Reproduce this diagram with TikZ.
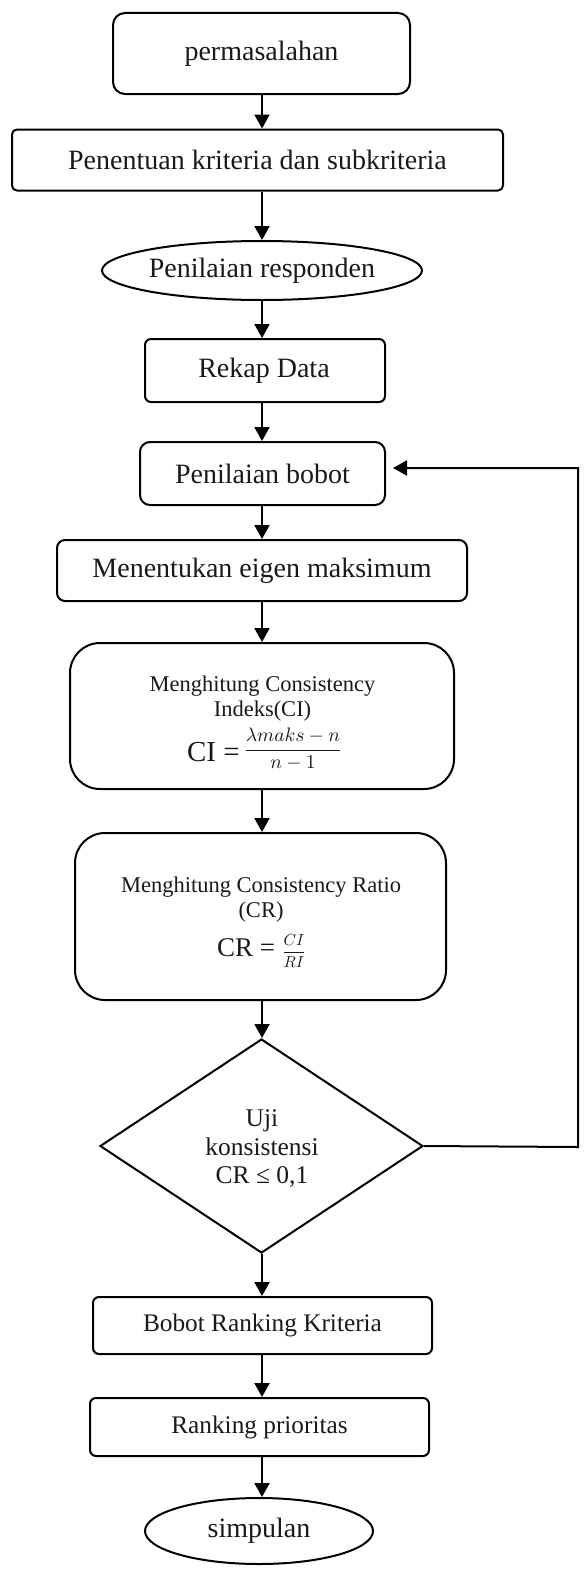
\documentclass[tikz,border=0pt]{standalone}
\usepackage{graphicx}
\usepackage{fontspec}
\setmainfont{Liberation Serif}
\usetikzlibrary{shapes.geometric,arrows.meta}
\begin{document}
\begin{tikzpicture}[x=1pt,y=-1pt,
  every node/.style={inner sep=0pt, line width=2pt, text=black!90},
  box/.style={draw, rectangle, font=\fontsize{28}{32}\selectfont},
  lowbox/.style={draw, rectangle, font=\fontsize{25.3}{30}\selectfont},
  oval/.style={draw, ellipse, font=\fontsize{28}{32}\selectfont},
  bigbox/.style={draw, rectangle, rounded corners=30pt},
  small/.style={font=\fontsize{22.5}{26}\selectfont, anchor=base},
  arr/.style={line width=2pt, -{Triangle[length=14pt,width=15pt]}}
]
\useasboundingbox (0,0) rectangle (584,1571);
\node[box, rounded corners=12pt, minimum width=297pt, minimum height=81pt] (p1) at (261.5,53.5) {permasalahan\hspace{24pt}};
\node[box, rounded corners=5pt, minimum width=491pt, minimum height=61pt] (p2) at (257.5,160) {Penentuan kriteria dan subkriteria};
\node[oval, minimum width=318pt, minimum height=59pt] (p3) at (262,270.5) {Penilaian responden};
\node[box, rounded corners=6pt, minimum width=240pt, minimum height=63pt] (p4) at (265,370.5) {\hspace{-2pt}Rekap Data};
\node[box, rounded corners=10pt, minimum width=245pt, minimum height=63pt] (p5) at (262.5,473.5) {Penilaian bobot};
\node[box, rounded corners=8pt, minimum width=410pt, minimum height=61pt] (p6) at (262,570.5) {Menentukan eigen maksimum};
% CI box
\node[bigbox, minimum width=384pt, minimum height=146pt] (p7) at (262,716) {};
\node[small] (t7a) at (262.5,691) {Menghitung Consistency};
\node[small] (t7b) at (262.5,716) {Indeks(CI)};
\node[font=\fontsize{29}{34}\selectfont, anchor=base west] (t7c) at (186,761) {CI =};
\node (t7d) at (293,749) {\scalebox{1.95}{$\displaystyle\frac{\lambda maks-n}{n-1}$}};
% CR box
\node[bigbox, minimum width=371pt, minimum height=167pt] (p8) at (260.5,916.5) {};
\node[small] (t8a) at (261,892) {Menghitung Consistency Ratio};
\node[small] (t8b) at (261,917) {(CR)};
\node[font=\fontsize{27}{32}\selectfont, anchor=base west] (t8c) at (216,956) {CR =};
\node (t8d) at (294,951) {\scalebox{1.6}{$\displaystyle\frac{CI}{RI}$}};
% decision
\node[draw, diamond, minimum width=323pt, minimum height=214pt] (p9) at (261.5,1146) {};
\node[align=center, font=\fontsize{25.5}{28.5}\selectfont] (t9) at (262,1149) {Uji\\konsistensi\\CR ≤ 0,1};
\node[lowbox, rounded corners=6pt, minimum width=339pt, minimum height=57pt] (p10) at (262.5,1325.5) {Bobot Ranking Kriteria};
\node[lowbox, rounded corners=6pt, minimum width=339pt, minimum height=58pt] (p11) at (259.5,1427) {Ranking prioritas};
\node[oval, font=\fontsize{28}{32}\selectfont, minimum width=228pt, minimum height=66pt] (p12) at (259,1531) {simpulan};
\coordinate (c1) at (578,1147);
\coordinate (c2) at (578,468);
\foreach \a/\b in {p1/p2,p2/p3,p3/p4,p4/p5,p5/p6,p6/p7,p7/p8,p8/p9,p9/p10,p10/p11,p11/p12}
  \draw[arr] (\a.south -| 262,0) -- (\b.north -| 262,0);
\draw[arr, shorten >=7pt] (p9.east) -- (c1) -- (c2) -- (p5.east |- c2);
\end{tikzpicture}
\end{document}
